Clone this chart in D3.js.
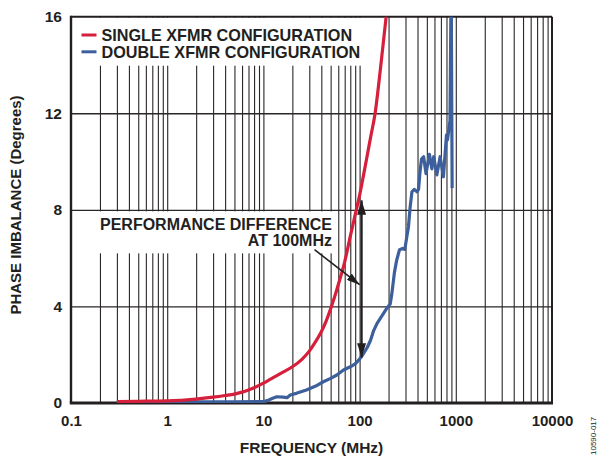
<!DOCTYPE html>
<html>
<head>
<meta charset="utf-8">
<script src="https://cdn.jsdelivr.net/npm/d3@7"></script>
<style>
  html, body { margin: 0; padding: 0; background: #fff; }
  svg { display: block; }
  text { font-family: "Liberation Sans", Arial, Helvetica, sans-serif; font-weight: bold; fill: #231f20; }
</style>
</head>
<body>
<svg id="chart" width="597" height="457"></svg>
<script>
// Frequency axis (MHz, log) and phase axis (degrees)
const freqTicks = [0.1, 1, 10, 100, 1000, 10000];
const freqTickLabels = ["0.1", "1", "10", "100", "1000", "10000"];
const phaseTicks = [0, 4, 8, 12, 16];
const phaseTickLabels = ["0", "4", "8", "12", "16"];

// Series names
const seriesNames = ["SINGLE XFMR CONFIGURATION", "DOUBLE XFMR CONFIGURATION"];

// Single transformer: frequency (MHz) and phase imbalance (degrees)
const singleFreq  = [0.3, 0.5, 1, 1.5, 2, 3, 4, 5, 6, 7, 8, 10, 12, 15, 20, 25, 30, 35, 40, 45, 50, 55, 60, 70, 80, 90, 100, 110, 120, 130, 145, 160, 175, 190];
const singlePhase = [0.06, 0.07, 0.09, 0.12, 0.16, 0.24, 0.31, 0.37, 0.45, 0.54, 0.63, 0.82, 1.0, 1.22, 1.5, 1.8, 2.15, 2.55, 2.95, 3.4, 3.9, 4.4, 4.9, 5.85, 6.9, 7.8, 8.6, 9.45, 10.25, 11.0, 12.0, 13.4, 14.8, 16.1];

// Double transformer: frequency (MHz) and phase imbalance (degrees)
const doubleFreq  = [0.3, 1, 5, 10, 11, 12.5, 13.8, 16, 17.6, 19, 22, 28, 35, 42, 50, 58, 68, 80, 90, 100, 110, 120, 130, 140, 152, 170, 190, 208, 216, 230, 243, 260, 280, 295, 310, 322, 335, 350, 370, 395, 410, 425, 440, 463, 490, 532, 564, 590, 635, 687, 743, 800, 820, 870, 895, 916];
const doublePhase = [0.05, 0.05, 0.05, 0.06, 0.1, 0.2, 0.26, 0.24, 0.22, 0.33, 0.4, 0.54, 0.7, 0.88, 1.02, 1.16, 1.37, 1.5, 1.62, 1.82, 2.05, 2.3, 2.6, 3.0, 3.3, 3.6, 3.9, 4.1, 4.5, 5.4, 5.92, 6.35, 6.4, 6.36, 6.9, 7.3, 8.1, 8.75, 8.85, 8.75, 8.85, 9.6, 10.1, 10.2, 9.5, 10.3, 9.7, 10.2, 9.45, 10.2, 9.37, 11.1, 10.9, 11.7, 17.5, 8.9];

// Annotation
const noteLines = ["PERFORMANCE DIFFERENCE", "AT 100MHz"];
const noteFreq = 100;
const figureId = "10590-017";

const colors = { single: "#d51f3b", double: "#3d609c", ink: "#231f20" };

const svg = d3.select("#chart");
const plot = { left: 71, right: 552, top: 16.7, bottom: 403 };

const x = d3.scaleLog().domain([0.1, 10000]).range([plot.left, plot.right]);
const y = d3.scaleLinear().domain([0, 16]).range([plot.bottom, plot.top]);

// Minor log grid: 1..9 per decade
const gridFreqs = [];
for (let d = 0.1; d < 10000; d *= 10) {
  for (let k = 1; k < 10; k++) gridFreqs.push(+(d * k).toPrecision(3));
}
gridFreqs.push(10000);

const grid = svg.append("g");
grid.append("g")
  .attr("transform", `translate(0,${plot.bottom})`)
  .call(d3.axisBottom(x).tickValues(gridFreqs.filter(f => f > 0.1 && f < 10000))
    .tickSize(-(plot.bottom - plot.top)).tickFormat(""))
  .call(g => g.select(".domain").remove())
  .call(g => g.selectAll("line").attr("stroke", "#2a2627").attr("stroke-width", 1.1));

grid.append("g")
  .attr("transform", `translate(${plot.left},0)`)
  .call(d3.axisLeft(y).tickValues([4, 8, 12]).tickSize(-(plot.right - plot.left)).tickFormat(""))
  .call(g => g.select(".domain").remove())
  .call(g => g.selectAll("line").attr("stroke", "#2a2627").attr("stroke-width", 1.4));

// Knock out grid behind the legend and the annotation text
svg.append("rect").attr("x", plot.left + 1).attr("y", plot.top + 1)
  .attr("width", 291).attr("height", 48).attr("fill", "#fff");
svg.append("rect").attr("x", plot.left + 2).attr("y", y(8) + 1.5)
  .attr("width", 263).attr("height", 42).attr("fill", "#fff");

// Frame
const frame = svg.append("g").attr("stroke", colors.ink).attr("fill", "none");
frame.append("line").attr("x1", plot.left).attr("x2", plot.right).attr("y1", plot.top).attr("y2", plot.top).attr("stroke-width", 2);
frame.append("line").attr("x1", plot.right).attr("x2", plot.right).attr("y1", plot.top).attr("y2", plot.bottom).attr("stroke-width", 2);
frame.append("line").attr("x1", plot.left).attr("x2", plot.left).attr("y1", plot.top - 1).attr("y2", plot.bottom).attr("stroke-width", 2.4);
frame.append("line").attr("x1", plot.left - 1.2).attr("x2", plot.right + 1).attr("y1", plot.bottom).attr("y2", plot.bottom).attr("stroke-width", 3.2);

// Axes labels
const xAxis = svg.append("g")
  .attr("transform", `translate(0,${plot.bottom})`)
  .call(d3.axisBottom(x).tickValues(freqTicks).tickSize(0).tickPadding(12)
    .tickFormat((d, i) => freqTickLabels[i]));
xAxis.select(".domain").remove();
xAxis.selectAll("text").style("font-size", "15px").attr("fill", colors.ink)
  .attr("font-family", null).attr("dy", "0.71em");

const yAxis = svg.append("g")
  .attr("transform", `translate(${plot.left},0)`)
  .call(d3.axisLeft(y).tickValues(phaseTicks).tickSize(0).tickPadding(9)
    .tickFormat((d, i) => phaseTickLabels[i]));
yAxis.select(".domain").remove();
yAxis.selectAll("text").style("font-size", "15.5px").attr("fill", colors.ink).attr("font-family", null);

svg.append("text")
  .attr("x", (plot.left + plot.right) / 2).attr("y", 453)
  .attr("text-anchor", "middle").style("font-size", "15.5px")
  .text("FREQUENCY (MHz)");

svg.append("text")
  .attr("transform", "translate(20.5,205) rotate(-90)")
  .attr("text-anchor", "middle").style("font-size", "15px")
  .text("PHASE IMBALANCE (Degrees)");

// Curves, clipped to the plot area
svg.append("defs").append("clipPath").attr("id", "plot-clip")
  .append("rect").attr("x", plot.left).attr("y", plot.top)
  .attr("width", plot.right - plot.left).attr("height", plot.bottom - plot.top);

const curves = svg.append("g").attr("clip-path", "url(#plot-clip)");
const doubleLine = d3.line().x((d, i) => x(doubleFreq[i])).y(d => y(d));
const singleLine = d3.line().x((d, i) => x(singleFreq[i])).y(d => y(d)).curve(d3.curveMonotoneX);

curves.append("path").datum(doublePhase).attr("d", doubleLine)
  .attr("fill", "none").attr("stroke", colors.double).attr("stroke-width", 3.2)
  .attr("stroke-linejoin", "round");
curves.append("path").datum(singlePhase).attr("d", singleLine)
  .attr("fill", "none").attr("stroke", colors.single).attr("stroke-width", 3.2)
  .attr("stroke-linejoin", "round");

// Legend
const legend = svg.append("g");
seriesNames.forEach((name, i) => {
  const yy = 35 + i * 16.8;
  legend.append("line").attr("x1", 81.5).attr("x2", 96.5).attr("y1", yy).attr("y2", yy)
    .attr("stroke", i === 0 ? colors.single : colors.double).attr("stroke-width", 3);
  legend.append("text").attr("x", 101.5).attr("y", yy + 6.3)
    .style("font-size", "16.2px").text(name);
});

// Double-headed arrow at 100 MHz between the two curves
const defs = svg.select("defs");
defs.append("marker").attr("id", "head").attr("viewBox", "0 0 16 10")
  .attr("refX", 16).attr("refY", 5).attr("markerUnits", "userSpaceOnUse")
  .attr("markerWidth", 16).attr("markerHeight", 9).attr("orient", "auto-start-reverse")
  .append("path").attr("d", "M0,0 L16,5 L0,10 Z").attr("fill", colors.ink);
defs.append("marker").attr("id", "head-small").attr("viewBox", "0 0 13 8")
  .attr("refX", 13).attr("refY", 4).attr("markerUnits", "userSpaceOnUse")
  .attr("markerWidth", 13).attr("markerHeight", 8).attr("orient", "auto")
  .append("path").attr("d", "M0,0 L13,4 L0,8 Z").attr("fill", colors.ink);

const iNote = singleFreq.indexOf(noteFreq);
const jNote = doubleFreq.indexOf(noteFreq);
const ax = x(noteFreq) + 2;
svg.append("line")
  .attr("x1", ax).attr("x2", ax)
  .attr("y1", y(singlePhase[iNote]) + 5).attr("y2", y(doublePhase[jNote]) - 1.5)
  .attr("stroke", colors.ink).attr("stroke-width", 2.2)
  .attr("marker-start", "url(#head)").attr("marker-end", "url(#head)");

// Leader from the note to the arrow
svg.append("line")
  .attr("x1", x(34)).attr("y1", y(6.35))
  .attr("x2", ax - 2).attr("y2", y(4.9))
  .attr("stroke", colors.ink).attr("stroke-width", 1.6)
  .attr("marker-end", "url(#head-small)");

noteLines.forEach((t, i) => {
  svg.append("text").attr("x", 332).attr("y", 230 + i * 15.7)
    .attr("text-anchor", "end").style("font-size", "16px").text(t);
});

// Figure number along the right edge
svg.append("text")
  .attr("transform", "translate(595.5,455) rotate(-90)")
  .style("font-size", "8px").style("font-weight", "normal").attr("fill", "#6d6e71")
  .text(figureId);
</script>
</body>
</html>
